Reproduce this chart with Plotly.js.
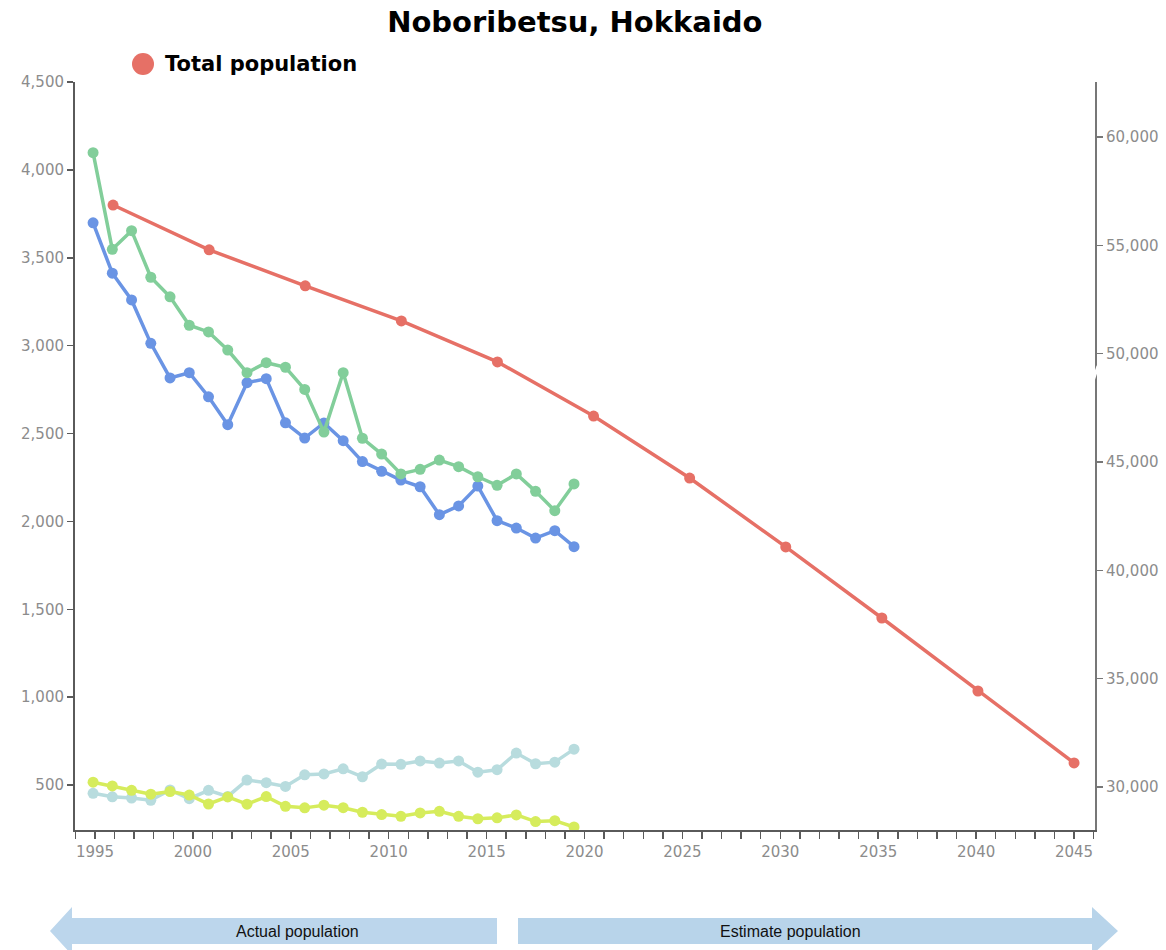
<!DOCTYPE html>
<html>
<head>
<meta charset="utf-8">
<script src="https://cdn.plot.ly/plotly-3.0.1.min.js"></script>
<style>html,body{margin:0;padding:0;background:#fff;}#chart{width:1166px;height:950px;}</style>
</head>
<body>
<div id="chart"></div>
<script>
// ---- data ----
var actualYears = [1995,1996,1997,1998,1999,2000,2001,2002,2003,2004,2005,2006,2007,2008,2009,2010,2011,2012,2013,2014,2015,2016,2017,2018,2019,2020];
var moveIn  = [3699,3412,3260,3013,2816,2846,2709,2550,2789,2812,2561,2474,2560,2459,2340,2285,2235,2197,2038,2088,2201,2004,1962,1905,1947,1856];
var moveOut = [4098,3548,3654,3389,3278,3116,3078,2975,2846,2903,2877,2751,2508,2846,2473,2383,2270,2296,2349,2311,2254,2205,2270,2171,2061,2213];
var deaths  = [453,433,426,413,472,422,470,435,528,513,492,558,563,592,547,619,618,637,625,637,573,587,682,621,630,704];
var births  = [516,495,470,448,463,443,392,432,391,434,379,370,385,371,345,332,322,341,350,322,308,313,330,292,297,261];
var totalYears = [1995,2000,2005,2010,2015,2020,2025,2030,2035,2040,2045];
var totalPop   = [56860,54790,53130,51510,49620,47120,44260,41080,37800,34430,31110];
var xTickYears = [];
for (var yr = 1994; yr <= 2046; yr++) xTickYears.push(yr);
var xTickText = xTickYears.map(function(v){ return (v % 5 === 0) ? String(v) : ''; });
var leftTicks  = [500,1000,1500,2000,2500,3000,3500,4000,4500];
var rightTicks = [30000,35000,40000,45000,50000,55000,60000];

// ---- layout helpers (pixel -> paper) ----
var L = 75, R = 71, T = 82, B = 120, W = 1166, H = 950;
var PW = W - L - R, PH = H - T - B;
function X(px){ return (px - L) / PW; }
function Y(py){ return (H - B - py) / PH; }
function path(pts){ return 'M' + pts.map(function(p){ return X(p[0]).toFixed(5) + ',' + Y(p[1]).toFixed(5); }).join('L') + 'Z'; }

var cBlue = 'rgb(106,148,228)', cGreen = 'rgb(130,206,154)', cTeal = 'rgb(184,220,222)', cYellow = 'rgb(214,236,92)', cRed = 'rgb(230,112,102)';
function series(name, x, y, color, xa, ya){
  return {type:'scatter', mode:'lines+markers', name:name, x:x, y:y, xaxis:xa, yaxis:ya,
    line:{color:color, width:3.5}, marker:{color:color, size:11}, showlegend:false};
}
var traces = [
  // registers the tick (label) axis subplot; draws no marks
  {type:'scatter', mode:'markers', x:[], y:[], xaxis:'x', yaxis:'y', showlegend:false, hoverinfo:'skip'},
  series('Deaths', actualYears, deaths, cTeal, 'x2', 'y'),
  series('Births', actualYears, births, cYellow, 'x2', 'y'),
  series('Move-in', actualYears, moveIn, cBlue, 'x2', 'y'),
  series('Move-out', actualYears, moveOut, cGreen, 'x2', 'y'),
  series('Total population', totalYears, totalPop, cRed, 'x3', 'y2')
];

var tickFont = {family:'DejaVu Sans', size:15, color:'#8c8c8c'};
var axisCol = '#5a5a5a';
var layout = {
  width: W, height: H,
  margin: {l:L, r:R, t:T, b:B, pad:0},
  paper_bgcolor:'#fff', plot_bgcolor:'#fff',
  showlegend:false,
  title: {text:'Noboribetsu, Hokkaido', x:0.493, xanchor:'center', y:1-22/H, yanchor:'middle', yref:'container',
          font:{family:'DejaVu Sans', size:29, color:'#000', weight:'bold'}},
  xaxis: {range:[1993.98, 2046.07], showgrid:false, zeroline:false, showline:true, linecolor:axisCol, linewidth:2,
          tickmode:'array', tickvals:xTickYears, ticktext:xTickText, ticks:'outside', ticklen:7, tickwidth:1.5, tickcolor:axisCol,
          tickfont:tickFont, tickangle:0, fixedrange:true},
  xaxis2: {overlaying:'x', anchor:'y', range:[1994.06, 2047.08], visible:false},
  xaxis3: {overlaying:'x', anchor:'y', range:[1993.02, 2046.09], visible:false},
  yaxis: {range:[244, 4500], showgrid:false, zeroline:false, showline:true, linecolor:axisCol, linewidth:2,
          tickmode:'array', tickvals:leftTicks, tickformat:',d', ticks:'outside', ticklen:6, tickwidth:1.5, tickcolor:axisCol,
          tickfont:tickFont},
  yaxis2: {overlaying:'y', side:'right', anchor:'x', range:[28015, 62538], showgrid:false, zeroline:false, showline:true,
           linecolor:'#777', linewidth:2, tickmode:'array', tickvals:rightTicks, tickformat:',d', ticks:'outside', ticklen:6,
           tickwidth:1.5, tickcolor:'#777', tickfont:tickFont},
  shapes: [
    {type:'path', xref:'paper', yref:'paper', layer:'above', line:{width:0}, fillcolor:'rgb(188,214,236)',
     path: path([[50,931],[72,907],[72,918],[497,918],[497,944],[72,944],[72,955]])},
    {type:'path', xref:'paper', yref:'paper', layer:'above', line:{width:0}, fillcolor:'rgb(184,212,234)',
     path: path([[518,918],[1092,918],[1092,907],[1118,931],[1092,955],[1092,944],[518,944]])},
    {type:'circle', xref:'paper', yref:'paper', layer:'above', line:{width:0}, fillcolor:cRed,
     x0:X(132), x1:X(154), y0:Y(75), y1:Y(53)},
    {type:'line', xref:'paper', yref:'paper', layer:'above', line:{color:'#fff', width:3},
     x0:X(1092), x1:X(1098), y0:Y(384), y1:Y(366)}
  ],
  annotations: [
    {text:'Total population', xref:'paper', yref:'paper', x:X(163), y:Y(64), xanchor:'left', yanchor:'middle', showarrow:false,
     font:{family:'DejaVu Sans', size:21, color:'#000', weight:'bold'}},
    {text:'Actual population', xref:'paper', yref:'paper', x:X(297), y:Y(931), xanchor:'center', yanchor:'middle', showarrow:false,
     font:{family:'Liberation Sans', size:16, color:'#111'}},
    {text:'Estimate population', xref:'paper', yref:'paper', x:X(790), y:Y(931), xanchor:'center', yanchor:'middle', showarrow:false,
     font:{family:'Liberation Sans', size:16, color:'#111'}}
  ]
};
Plotly.newPlot('chart', traces, layout, {displayModeBar:false, staticPlot:true});
</script>
</body>
</html>
